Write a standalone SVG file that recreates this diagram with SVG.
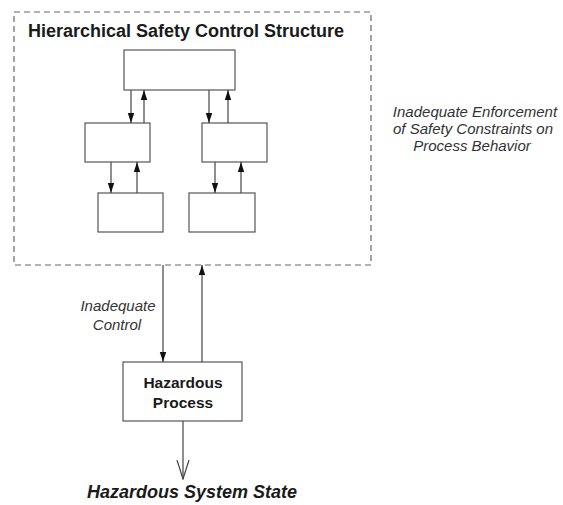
<svg xmlns="http://www.w3.org/2000/svg" width="563" height="505" viewBox="0 0 563 505">
  <style>
    .box { fill: #fff; stroke: #555; stroke-width: 1.2; }
    .ln { stroke: #444; stroke-width: 1.2; fill: none; }
    .t { font-family: "Liberation Sans", Arial, sans-serif; fill: #1a1a1a; }
    .it { font-style: italic; font-size: 15px; fill: #333; }
  </style>
  <defs>
    <marker id="arr" markerWidth="10" markerHeight="12" refX="11" refY="3.5" orient="auto" markerUnits="userSpaceOnUse" viewBox="0 0 11 7">
      <path d="M0,0 L11,3.5 L0,7 z" fill="#111"/>
    </marker>
    <marker id="open" markerWidth="20" markerHeight="14" refX="19" refY="6" orient="auto" markerUnits="userSpaceOnUse" viewBox="0 0 20 12">
      <path d="M0,0 L19,6 L0,12" fill="none" stroke="#444" stroke-width="1.2"/>
    </marker>
  </defs>

  <!-- control structure boundary -->
  <g id="structure">
    <rect x="14" y="12" width="357" height="253" fill="none" stroke="#666" stroke-width="1.2" stroke-dasharray="6,4"/>
    <text class="t" x="28" y="37" font-size="18" font-weight="bold">Hierarchical Safety Control Structure</text>
  </g>

  <g id="top"><rect class="box" x="124" y="50" width="111" height="40"/></g>
  <g id="mid-left"><rect class="box" x="85" y="123" width="65" height="39"/></g>
  <g id="mid-right"><rect class="box" x="202" y="123" width="65" height="39"/></g>
  <g id="bottom-left"><rect class="box" x="98" y="193" width="65" height="39"/></g>
  <g id="bottom-right"><rect class="box" x="189" y="193" width="66" height="39"/></g>

  <g id="process">
    <rect class="box" x="123" y="362" width="119" height="59"/>
    <text class="t" x="183" y="388" font-size="15.5" font-weight="bold" text-anchor="middle">Hazardous</text>
    <text class="t" x="183" y="408" font-size="15.5" font-weight="bold" text-anchor="middle">Process</text>
  </g>

  <g id="connectors">
    <line class="ln" x1="131" y1="90" x2="131" y2="123" marker-end="url(#arr)"/>
    <line class="ln" x1="144" y1="123" x2="144" y2="90" marker-end="url(#arr)"/>
    <line class="ln" x1="209" y1="90" x2="209" y2="123" marker-end="url(#arr)"/>
    <line class="ln" x1="228" y1="123" x2="228" y2="90" marker-end="url(#arr)"/>
    <line class="ln" x1="111" y1="162" x2="111" y2="193" marker-end="url(#arr)"/>
    <line class="ln" x1="137" y1="193" x2="137" y2="162" marker-end="url(#arr)"/>
    <line class="ln" x1="215" y1="162" x2="215" y2="193" marker-end="url(#arr)"/>
    <line class="ln" x1="241" y1="193" x2="241" y2="162" marker-end="url(#arr)"/>
    <line class="ln" x1="163" y1="265" x2="163" y2="362" marker-end="url(#arr)"/>
    <line class="ln" x1="202" y1="362" x2="202" y2="265" marker-end="url(#arr)"/>
    <line class="ln" x1="183" y1="421" x2="183" y2="479" marker-end="url(#open)"/>
  </g>

  <g id="labels">
    <text class="t it" x="118" y="311" text-anchor="middle">Inadequate</text>
    <text class="t it" x="117" y="330" text-anchor="middle">Control</text>
    <text class="t it" x="475" y="117" text-anchor="middle">Inadequate Enforcement</text>
    <text class="t it" x="473" y="134" text-anchor="middle">of Safety Constraints on</text>
    <text class="t it" x="472" y="151" text-anchor="middle">Process Behavior</text>
    <text class="t" x="192" y="498" font-size="18" font-weight="bold" font-style="italic" text-anchor="middle">Hazardous System State</text>
  </g>
</svg>
